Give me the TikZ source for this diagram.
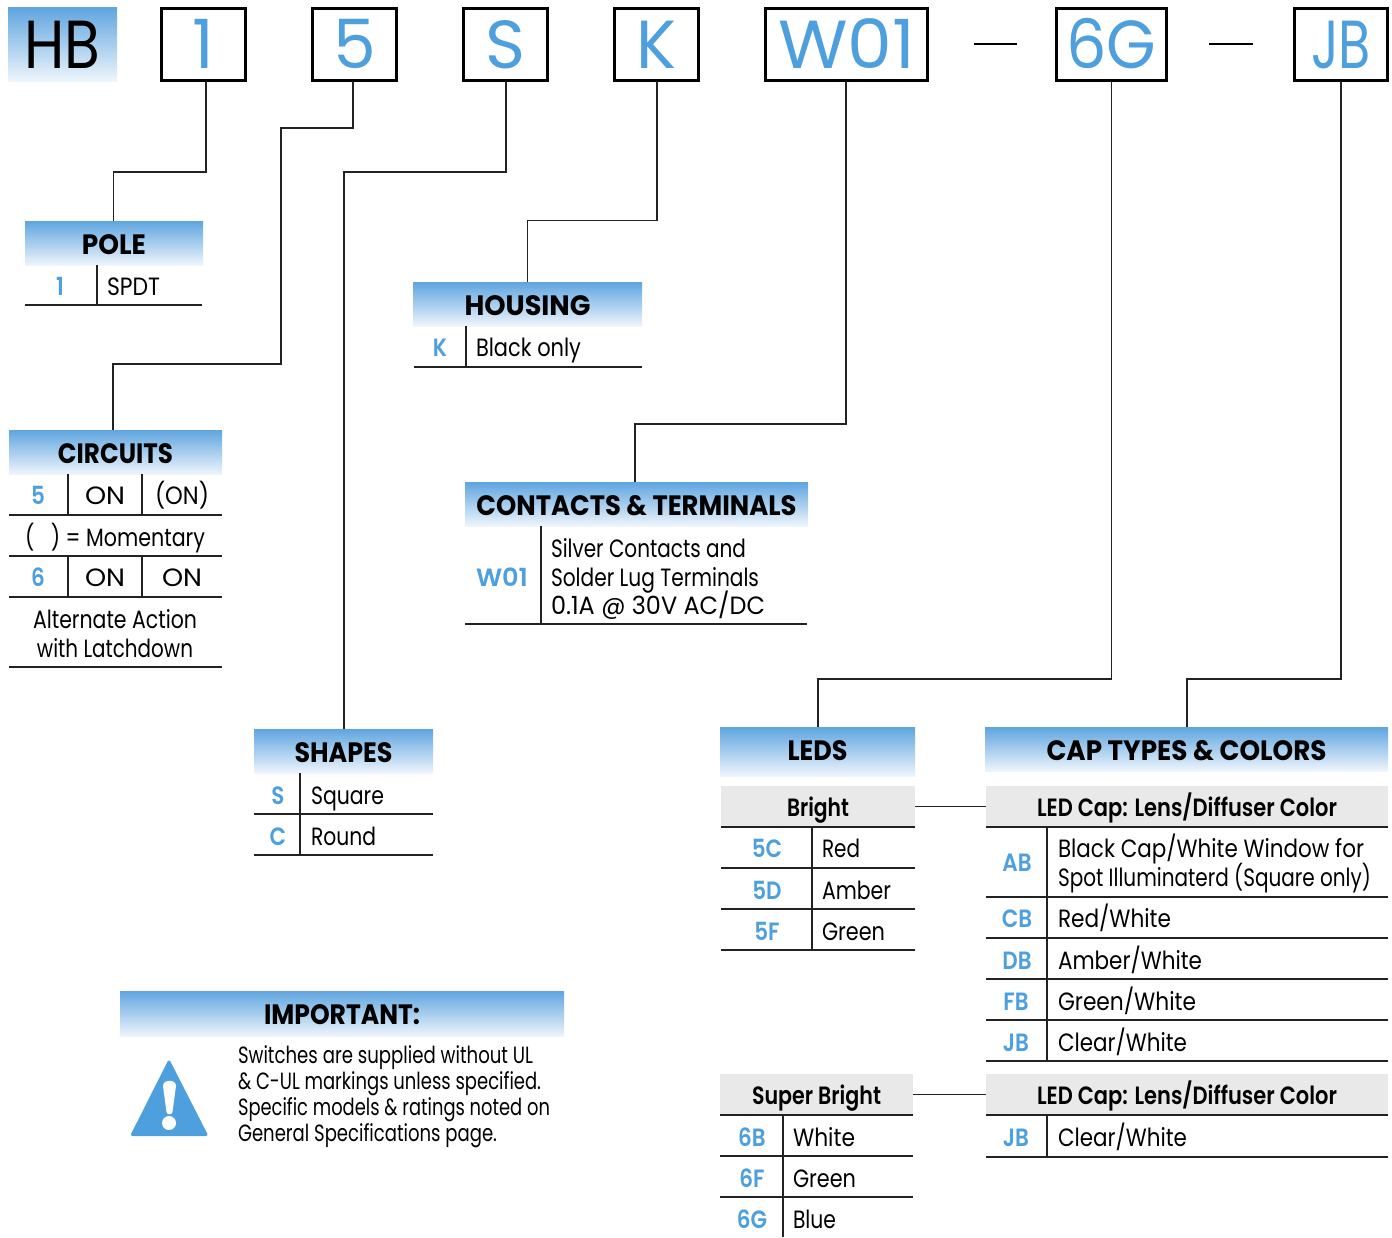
\documentclass[tikz,border=0pt]{standalone}
\usepackage{fontspec}
\setmainfont{Poppins}
\newfontfamily\boldf{Poppins SemiBold}
\newfontfamily\codef{Poppins SemiBold}[FakeStretch=0.86]
\newfontfamily\hdrf{Poppins Bold}
\newcommand\fitw[2]{\resizebox{#1pt}{\height}{#2}}
\definecolor{cblue}{HTML}{4D9FDD}
\definecolor{gtop}{HTML}{5FA5DF}
\definecolor{gbot}{HTML}{EEF5FC}
\definecolor{ghead}{HTML}{E9E9E9}
\definecolor{rule}{HTML}{222222}
\tikzset{
 x=1pt,y=-1pt,
 allbox/.style={inner sep=0pt,outer sep=0pt},
 hdr/.style={allbox,anchor=north west,top color=gtop,bottom color=gbot,text=black,
   font=\hdrf\fontsize{28}{30}\selectfont,text height=22pt,text depth=0pt},
 grayh/.style={allbox,anchor=north west,fill=ghead,text=black,
   font=\boldf\fontsize{25}{28}\selectfont,text height=20pt,text depth=0pt},
 bigbox/.style={allbox,draw=black,line width=3pt,anchor=north west,text=cblue,
   font=\fontsize{68}{70}\selectfont,text height=48pt,text depth=0pt,minimum height=72pt},
 code/.style={allbox,text=cblue,font=\codef\fontsize{25}{28}\selectfont,text height=18pt,text depth=0pt},
 bodyl/.style={allbox,anchor=west,text=black,font=\fontsize{25}{29}\selectfont,text height=18pt,text depth=0pt},
 bodyc/.style={allbox,text=black,font=\fontsize{25}{29}\selectfont,text height=18pt,text depth=0pt},
 note/.style={bodyl,font=\fontsize{23.5}{26}\selectfont},
 rl/.style={draw=rule,line width=1.4pt},
 conn/.style={draw=rule,line width=1.7pt},
}
\begin{document}
\begin{tikzpicture}
\useasboundingbox (0,0) rectangle (1392,1237);
% part number row
\node[hdr,minimum width=109pt,minimum height=74pt,font=\fontsize{68}{70}\selectfont,text height=48pt] (hb) at (8,7) {\fitw{76}{HB}};
\node[bigbox,minimum width=84pt] (b1) at (161.5,8.5) {1};
\node[bigbox,minimum width=84pt] (b5) at (312.5,8.5) {5};
\node[bigbox,minimum width=84pt] (bS) at (463.5,8.5) {S};
\node[bigbox,minimum width=84pt] (bK) at (614.5,8.5) {\fitw{40}{K}};
\node[bigbox,minimum width=162pt] (bW) at (765.5,8.5) {\fitw{137}{W01}};
\node[bigbox,minimum width=110pt] (bG) at (1056.5,8.5) {\fitw{90}{6G}};
\node[bigbox,minimum width=93pt] (bJ) at (1294.5,8.5) {\fitw{60}{JB}};
\draw[black,line width=2.5pt] (974,44) -- (1017,44);
\draw[black,line width=2.5pt] (1209,44) -- (1253,44);
% headers
\node[hdr,minimum width=178pt,minimum height=44pt] (pole) at (25,221) {\fitw{64}{POLE}};
\node[hdr,minimum width=213pt,minimum height=44pt] (circ) at (9,430) {\fitw{115}{CIRCUITS}};
\node[hdr,minimum width=229pt,minimum height=44pt] (hous) at (413,282) {\fitw{126}{HOUSING}};
\node[hdr,minimum width=343pt,minimum height=44pt] (cont) at (465,482) {\fitw{320}{CONTACTS \& TERMINALS}};
\node[hdr,minimum width=179pt,minimum height=44pt] (shap) at (254,729) {\fitw{98}{SHAPES}};
\node[hdr,minimum width=195pt,minimum height=49pt,text depth=4pt] (leds) at (720,727) {\fitw{60}{LEDS}};
\node[hdr,minimum width=403pt,minimum height=44pt] (caps) at (985,727) {\fitw{280}{CAP TYPES \& COLORS}};
\node[hdr,minimum width=444pt,minimum height=45pt] (impo) at (120,991) {\fitw{156}{IMPORTANT:}};
% connectors
\draw[conn] ([xshift=2.5pt]b1.south) -- ++(0,91.5) -| ([xshift=-0.5pt]pole.north);
\draw[conn] ([xshift=-1.5pt]b5.south) -- ++(0,47.5) -- ++(-72,0) -- ++(0,236) -| ([xshift=-2.5pt]circ.north);
\draw[conn] ([xshift=0.5pt]bS.south) -- ++(0,91.5) -| ([xshift=0.5pt]shap.north);
\draw[conn] ([xshift=0.5pt]bK.south) -- ++(0,140) -| (hous.north);
\draw[conn] ([xshift=-0.5pt]bW.south) -- ++(0,343.5) -| ([xshift=-1.5pt]cont.north);
\draw[conn] (bG.south) -- ++(0,598.5) -| ([xshift=0.5pt]leds.north);
\draw[conn] (bJ.south) -- ++(0,598.5) -| ([xshift=0.5pt]caps.north);
% POLE
\draw[rl] (25,305) -- (202,305) (97,265) -- (97,305);
\node[code] (c1) at (60,286) {1};
\node[bodyl] (t1) at (107,286) {\fitw{53}{SPDT}};
% HOUSING
\draw[rl] (414,367) -- (642,367) (466,326) -- (466,367);
\node[code] (cK) at (440,347) {K};
\node[bodyl] (tK) at (476,347) {\fitw{105}{Black only}};
% CIRCUITS
\draw[rl] (9,515) -- (222,515) (9,556) -- (222,556) (9,597) -- (222,597) (9,667) -- (222,667);
\draw[rl] (68,474) -- (68,515) (142,474) -- (142,515) (68,556) -- (68,597) (142,556) -- (142,597);
\node[code] (c5) at (38,495) {5};
\node[bodyc] (on1) at (105,495) {\fitw{40}{ON}};
\node[bodyc] (on2) at (182,495) {\fitw{54}{(ON)}};
\node[bodyc] (mom) at (115,537) {\fitw{180}{(\hspace{20pt}) = Momentary}};
\node[code] (c6) at (38,577) {6};
\node[bodyc] (on3) at (105,577) {\fitw{40}{ON}};
\node[bodyc] (on4) at (182,577) {\fitw{40}{ON}};
\node[bodyc] (alt1) at (115,619) {\fitw{164}{Alternate Action}};
\node[bodyc] (alt2) at (115,648) {\fitw{156}{with Latchdown}};
% CONTACTS
\draw[rl] (465,624) -- (807,624) (541,526) -- (541,624);
\node[code] (cW) at (502,577) {\fitw{52}{W01}};
\node[bodyl] (w1) at (551,548) {\fitw{195}{Silver Contacts and}};
\node[bodyl] (w2) at (551,577) {\fitw{208}{Solder Lug Terminals}};
\node[bodyl] (w3) at (551,605) {\fitw{214}{0.1A @ 30V AC/DC}};
% SHAPES
\draw[rl] (254,814) -- (433,814) (254,855) -- (433,855) (300,773) -- (300,855);
\node[code] (cS) at (278,795) {S};
\node[bodyl] (tS) at (311,795) {\fitw{73}{Square}};
\node[code] (cC) at (278,836) {C};
\node[bodyl] (tC) at (311,836) {\fitw{65}{Round}};
% LEDS bright
\node[grayh,minimum width=194pt,minimum height=41pt] (bright) at (721,786) {\fitw{62}{Bright}};
\draw[rl] (721,827) -- (915,827) (721,868) -- (915,868) (721,909) -- (915,909) (721,950) -- (915,950) (812,827) -- (812,950);
\node[code] (c5C) at (767,848) {5C};
\node[bodyl] (t5C) at (822,848) {\fitw{38}{Red}};
\node[code] (c5D) at (767,890) {5D};
\node[bodyl] (t5D) at (822,890) {\fitw{69}{Amber}};
\node[code] (c5F) at (767,931) {5F};
\node[bodyl] (t5F) at (822,931) {\fitw{63}{Green}};
% Cap 1
\node[grayh,minimum width=402pt,minimum height=41pt] (cap1) at (986,786) {\fitw{300}{LED Cap: Lens/Diffuser Color}};
\draw[conn] (bright.east) -- (cap1.west);
\draw[rl] (986,827) -- (1388,827) (986,897) -- (1388,897) (986,938) -- (1388,938) (986,979) -- (1388,979) (986,1020) -- (1388,1020) (986,1061) -- (1388,1061) (1047,827) -- (1047,1061);
\node[code] (cAB) at (1017,862) {AB};
\node[bodyl] (tAB1) at (1058,848) {\fitw{306}{Black Cap/White Window for}};
\node[bodyl] (tAB2) at (1058,877) {\fitw{313}{Spot Illuminaterd (Square only)}};
\node[code] (cCB) at (1017,918) {CB};
\node[bodyl] (tCB) at (1058,918) {\fitw{113}{Red/White}};
\node[code] (cDB) at (1017,960) {DB};
\node[bodyl] (tDB) at (1058,960) {\fitw{144}{Amber/White}};
\node[code] (cFB) at (1016,1001) {FB};
\node[bodyl] (tFB) at (1058,1001) {\fitw{138}{Green/White}};
\node[code] (cJB) at (1016,1042) {JB};
\node[bodyl] (tJB) at (1058,1042) {\fitw{129}{Clear/White}};
% Super bright
\node[grayh,minimum width=193pt,minimum height=41pt] (super) at (720,1074) {\fitw{129}{Super Bright}};
\draw[rl] (720,1115) -- (913,1115) (720,1156) -- (913,1156) (720,1197) -- (913,1197) (783,1115) -- (783,1237);
\node[code] (c6B) at (752,1137) {6B};
\node[bodyl] (t6B) at (793,1137) {\fitw{62}{White}};
\node[code] (c6F) at (752,1178) {6F};
\node[bodyl] (t6F) at (793,1178) {\fitw{63}{Green}};
\node[code] (c6G) at (752,1219) {6G};
\node[bodyl] (t6G) at (793,1219) {\fitw{43}{Blue}};
% Cap 2
\node[grayh,minimum width=402pt,minimum height=41pt] (cap2) at (986,1074) {\fitw{300}{LED Cap: Lens/Diffuser Color}};
\draw[conn] (super.east) -- (cap2.west);
\draw[rl] (986,1115) -- (1388,1115) (986,1157) -- (1388,1157) (1047,1115) -- (1047,1157);
\node[code] (cJ2) at (1016,1137) {JB};
\node[bodyl] (tJ2) at (1058,1137) {\fitw{129}{Clear/White}};
% IMPORTANT
\node[note] (i1) at (238,1054) {\fitw{295}{Switches are supplied without UL}};
\node[note] (i2) at (238,1080) {\fitw{303}{\& C-UL markings unless specified.}};
\node[note] (i3) at (238,1106) {\fitw{312}{Specific models \& ratings noted on}};
\node[note] (i4) at (238,1132) {\fitw{259}{General Specifications page.}};
\fill[cblue,draw=cblue,line width=3pt,line join=round] (169,1062) -- (206,1134.5) -- (132.5,1134.5) -- cycle;
\fill[white] (163,1086) .. controls (163,1079) and (176,1079) .. (176,1086) -- (172.5,1112) .. controls (172,1115) and (167,1115) .. (166.5,1112) -- cycle;
\fill[white] (169,1123) circle (7);
\end{tikzpicture}
\end{document}
